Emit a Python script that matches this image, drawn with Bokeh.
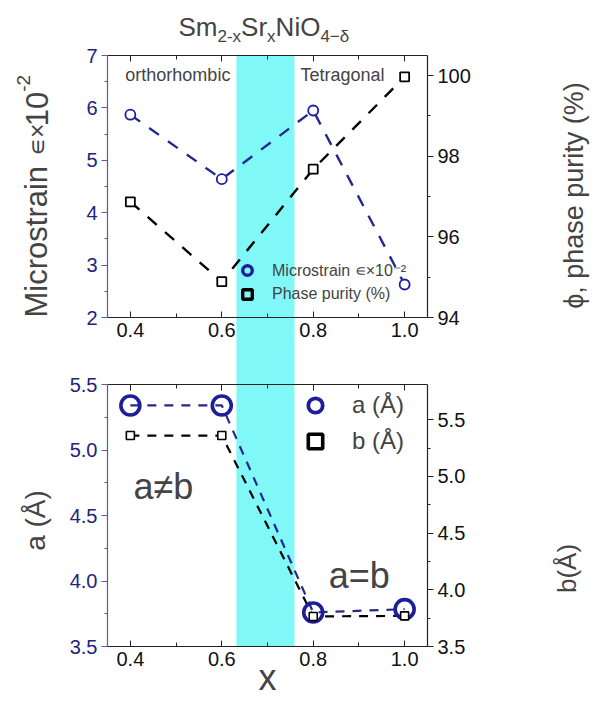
import math
import numpy as np
from bokeh.plotting import figure
from bokeh.models import (Range1d, LinearAxis, FixedTicker, BoxAnnotation, Label, GridBox,
                          Legend, LegendItem, CustomJSTickFormatter, PrintfTickFormatter)
from bokeh.embed import file_html
from bokeh.resources import INLINE

# ---------------- data ----------------
x_comp = [0.4, 0.6, 0.8, 1.0]
microstrain = [5.87, 4.64, 5.95, 2.63]          # left axis, x10^-2
phase_purity = [96.87, 94.89, 97.68, 99.97]     # right axis, %
a_lat = [5.34, 5.34, 3.76, 3.785]               # a (Å)
b_lat = [5.36, 5.36, 3.765, 3.77]               # b (Å)

x_ticks = [0.4, 0.6, 0.8, 1.0]
x_minor = [0.5, 0.7, 0.9]
strain_ticks = [2, 3, 4, 5, 6, 7]
purity_ticks = [94, 96, 98, 100]
a_ticks = [3.5, 4.0, 4.5, 5.0, 5.5]
b_ticks = [3.5, 4.0, 4.5, 5.0, 5.5]
band_x = [0.632, 0.759]
X_RANGE = (0.35, 1.05)

FONT = "Liberation Sans"
BLUE = "#1e1e9a"
BLUE_LINE = "#22288c"
BLUE_AXIS = "#5a5aa6"
BLUE_TXT = "#23237e"
CYAN = "#80f8f8"
DARK = "#222222"

# layout (pixels)
LB, FW, RB = 107, 320, 163
TOP_T, TOP_H, TOP_B = 55, 262, 36
BOT_T, BOT_H, BOT_B = 31, 262, 52
TOTAL_W = LB + FW + RB
TOTAL_H = TOP_T + TOP_H + TOP_B + BOT_T + BOT_H + BOT_B

W = {'S': .667, 'm': .833, 'r': .333, 'N': .722, 'i': .222, 'O': .778, '2': .556,
     '-': .333, 'x': .5, '4': .556, '−': .584, 'δ': .556, 'M': .833, 'c': .5, 'o': .556,
     's': .5, 't': .278, 'a': .556, 'n': .556, '∊': .6, '×': .584, '1': .556, '0': .556}


def twidth(s, size):
    return sum(W.get(ch, .556) for ch in s) * size


def mids(t):
    return [(a + b) / 2 for a, b in zip(t[:-1], t[1:])]


def make_fig(yr, fh, top_b, bot_b):
    p = figure(frame_width=FW, frame_height=fh, x_range=Range1d(*X_RANGE), y_range=yr,
               x_axis_location=None, y_axis_location=None,
               output_backend="svg", toolbar_location=None,
               min_border_left=LB, min_border_right=RB,
               min_border_top=top_b, min_border_bottom=bot_b)
    p.outline_line_color = None
    p.grid.visible = False
    p.background_fill_alpha = 0
    p.border_fill_alpha = 0
    return p


def add_x_axes(p):
    for loc in ("below", "above"):
        ax = LinearAxis(ticker=FixedTicker(ticks=x_ticks, minor_ticks=x_minor))
        ax.major_tick_in = 6
        ax.major_tick_out = 0
        ax.minor_tick_in = 4
        ax.minor_tick_out = 0
        ax.axis_line_color = DARK
        ax.major_tick_line_color = DARK
        ax.minor_tick_line_color = DARK
        ax.axis_line_width = 1.2
        if loc == "below":
            ax.formatter = PrintfTickFormatter(format="%.1f")
            ax.major_label_text_font = FONT
            ax.major_label_text_font_size = "20px"
            ax.major_label_text_color = "#111111"
            ax.major_label_standoff = 5
        else:
            ax.formatter = CustomJSTickFormatter(code="return ''")
            ax.major_label_standoff = 0
        p.add_layout(ax, loc)


def add_y_axis(p, ticks, loc, line_color, text_color, range_name="default", fmt=None):
    ax = LinearAxis(ticker=FixedTicker(ticks=ticks, minor_ticks=mids(ticks)), y_range_name=range_name)
    if fmt:
        ax.formatter = PrintfTickFormatter(format=fmt)
    ax.major_tick_in = 0
    ax.major_tick_out = 6
    ax.minor_tick_in = 0
    ax.minor_tick_out = 3
    ax.axis_line_color = line_color
    ax.major_tick_line_color = line_color
    ax.minor_tick_line_color = line_color
    ax.axis_line_width = 1.2
    ax.major_label_text_font = FONT
    ax.major_label_text_font_size = "20px"
    ax.major_label_text_color = text_color
    ax.major_label_standoff = 4
    p.add_layout(ax, loc)
    return ax


def lab(p, x, y, text, size, xu="data", yu="data", **kw):
    l = Label(x=x, y=y, x_units=xu, y_units=yu, text=text,
              text_font=FONT, text_font_size=f"{size}px", **kw)
    p.add_layout(l)
    return l


# ---------------- background canvas (band + outer texts) ----------------
px_per_x = FW / (X_RANGE[1] - X_RANGE[0])
bg = figure(frame_width=TOTAL_W, frame_height=TOTAL_H,
            x_range=Range1d(X_RANGE[0] - LB / px_per_x, X_RANGE[0] + (TOTAL_W - LB) / px_per_x),
            y_range=Range1d(TOTAL_H, 0),
            x_axis_location=None, y_axis_location=None,
            output_backend="svg", toolbar_location=None, min_border=0)
if "frame_align" in bg.properties():
    bg.frame_align = False
bg.outline_line_color = None
bg.grid.visible = False
bg.background_fill_color = "white"
bg.border_fill_color = "white"

band_top = TOP_T
band_bot = TOP_T + TOP_H + TOP_B + BOT_T + BOT_H
bg.add_layout(BoxAnnotation(left=band_x[0], right=band_x[1], top=band_top, bottom=band_bot,
                            fill_color=CYAN, fill_alpha=1, line_color=None, level="underlay"))

# title Sm2-xSrxNiO4-δ
parts = [("Sm", 26, 0), ("2-x", 17, 10), ("Sr", 26, 0), ("x", 17, 10), ("NiO", 26, 0), ("4−δ", 17, 10)]
cx = 178
for txt, sz, dy in parts:
    lab(bg, cx, 26 + dy, txt, sz, xu="screen", text_baseline="alphabetic")
    cx += twidth(txt, sz)

# left axis title of top panel (rotated)
vparts = [("Microstrain", 31, 0), ("∊×", 25, 0), ("10", 31, 0), ("-2", 19, -13)]
cy = 317
for i, (txt, sz, dx) in enumerate(vparts):
    lab(bg, 36 + dx, cy, txt, sz, xu="screen", angle=math.pi / 2, text_baseline="alphabetic")
    cy -= twidth(txt, sz) + (10 if i == 0 else 0)

lab(bg, 573, 195, "ϕ, phase purity (%)", 27, xu="screen", angle=math.pi / 2,
    text_align="center", text_baseline="middle")
lab(bg, 35, 520, "a (Å)", 28, xu="screen", angle=math.pi / 2,
    text_align="center", text_baseline="middle")
lab(bg, 566, 568, "b(Å)", 26, xu="screen", angle=math.pi / 2,
    text_align="center", text_baseline="middle")
lab(bg, LB + FW / 2, TOTAL_H - 1, "x", 36, xu="screen", text_align="center", text_baseline="bottom")

# ---------------- top panel ----------------
top = make_fig(Range1d(2, 7), TOP_H, TOP_T, TOP_B)
top.extra_y_ranges = {"pp": Range1d(94, 100.5)}
add_x_axes(top)
add_y_axis(top, strain_ticks, "left", BLUE_AXIS, BLUE_TXT)
add_y_axis(top, purity_ticks, "right", DARK, "#111111", range_name="pp")

top.line(x_comp, microstrain, line_color=BLUE_LINE, line_width=2.4, line_dash="12 11")
top.scatter(x_comp, microstrain, marker="circle", size=10, line_color=BLUE, line_width=1.8,
            fill_color="white")
top.line(x_comp, phase_purity, y_range_name="pp", line_color="black", line_width=2.4,
         line_dash="12 11")
top.scatter(x_comp, phase_purity, y_range_name="pp", marker="square", size=9, line_color="black",
            line_width=1.8, fill_color="white")

leg_c = top.scatter([np.nan], [np.nan], marker="circle", line_color=BLUE, line_width=3.4,
                    fill_color=None)
leg_s = top.scatter([np.nan], [np.nan], marker="square", line_color="black", line_width=3.4,
                    fill_color=None)
leg1 = Legend(items=[LegendItem(label="Microstrain ∊×10⁻²", renderers=[leg_c]),
                     LegendItem(label="Phase purity (%)", renderers=[leg_s])],
              location=(127, 11), glyph_width=26, glyph_height=24, spacing=0, padding=0,
              label_standoff=12, label_text_font=FONT, label_text_font_size="16px",
              label_height=20, border_line_color=None, background_fill_alpha=0)
top.add_layout(leg1)

lab(top, 0.389, 6.62, "orthorhombic", 18, text_baseline="middle")
lab(top, 0.772, 6.62, "Tetragonal", 18, text_baseline="middle")

# ---------------- bottom panel ----------------
bot = make_fig(Range1d(3.5, 5.5), BOT_H, BOT_T, BOT_B)
bot.extra_y_ranges = {"b": Range1d(3.5, 5.81)}
add_x_axes(bot)
add_y_axis(bot, a_ticks, "left", BLUE_AXIS, BLUE_TXT, fmt="%.1f")
add_y_axis(bot, b_ticks, "right", DARK, "#111111", range_name="b", fmt="%.1f")

bot.line(x_comp, a_lat, line_color=BLUE_LINE, line_width=2.2, line_dash="9 8")
bot.line(x_comp, b_lat, y_range_name="b", line_color="black", line_width=2.2, line_dash="9 8")
bot.scatter(x_comp, a_lat, marker="circle", size=19, line_color=BLUE, line_width=3.6,
            fill_color=None)
bot.scatter(x_comp, b_lat, y_range_name="b", marker="square", size=8, line_color="black",
            line_width=1.6, fill_color="white")

leg_a = bot.scatter([np.nan], [np.nan], marker="circle", line_color=BLUE, line_width=3.8,
                    fill_color=None)
leg_b = bot.scatter([np.nan], [np.nan], marker="square", line_color="black", line_width=3.6,
                    fill_color=None)
leg2 = Legend(items=[LegendItem(label="a (Å)", renderers=[leg_a]),
                     LegendItem(label="b (Å)", renderers=[leg_b])],
              location=(190, 187), glyph_width=36, glyph_height=36, spacing=0, padding=0,
              label_standoff=19, label_text_font=FONT, label_text_font_size="24px",
              border_line_color=None, background_fill_alpha=0)
bot.add_layout(leg2)

lab(bot, 0.407, 4.72, "a≠b", 36, text_baseline="middle")
lab(bot, 0.834, 4.04, "a=b", 36, text_baseline="middle")

layout = GridBox(children=[(bg, 0, 0, 2, 1), (top, 0, 0), (bot, 1, 0)])
open("out.html", "w").write(file_html(layout, INLINE))
